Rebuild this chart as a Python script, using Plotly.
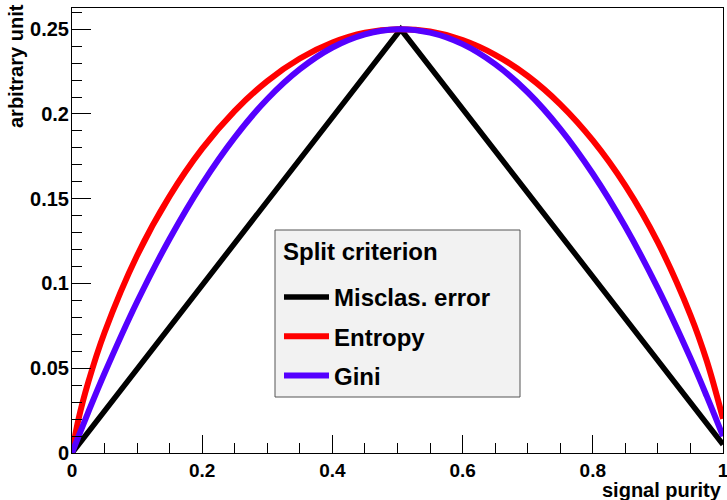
import plotly.graph_objects as go

# x positions (signal purity axis) at which values were read
x_grid = [0.0, 0.01, 0.025, 0.05, 0.1, 0.15, 0.2, 0.25, 0.3, 0.35, 0.4, 0.45, 0.5,
          0.55, 0.6, 0.65, 0.7, 0.75, 0.8, 0.85, 0.9, 0.95, 0.975, 1.0]
entropy_vals = [0.0, 0.0200, 0.0418, 0.0711, 0.1165, 0.1515, 0.1795, 0.2018, 0.2194,
                0.2327, 0.2421, 0.2479, 0.2500, 0.2486, 0.2436, 0.2349, 0.2224, 0.2057,
                0.1844, 0.1577, 0.1242, 0.0814, 0.0544, 0.0202]
gini_vals = [0.0, 0.0098, 0.0241, 0.0470, 0.0892, 0.1264, 0.1588, 0.1862, 0.2088,
             0.2264, 0.2392, 0.2470, 0.2500, 0.2480, 0.2412, 0.2294, 0.2128, 0.1912,
             0.1647, 0.1334, 0.0971, 0.0560, 0.0335, 0.0099]
miscl_x = [0.0, 0.505, 1.0]
miscl_vals = [0.0, 0.25, 0.005]

x_tick_vals = [0, 0.2, 0.4, 0.6, 0.8, 1.0]
x_tick_text = ["0", "0.2", "0.4", "0.6", "0.8", "1"]
y_tick_vals = [0, 0.05, 0.1, 0.15, 0.2, 0.25]
y_tick_text = ["0", "0.05", "0.1", "0.15", "0.2", "0.25"]

series_names = ["Misclas. error", "Entropy", "Gini"]
legend_title = "Split criterion"
x_title = "signal purity"
y_title = "arbitrary unit"

FONT = "Liberation Sans"
W, H = 727, 500
ML, MR, MT, MB = 72, 4, 8, 47
PW, PH = W - ML - MR, H - MT - MB


def px_x(p):
    return (p - ML) / PW


def px_y(p):
    return (H - MB - p) / PH


fig = go.Figure()
fig.add_trace(go.Scatter(x=miscl_x, y=miscl_vals, mode="lines", name=series_names[0],
                         line=dict(color="black", width=5.5), legendgroup="a"))
fig.add_trace(go.Scatter(x=x_grid, y=entropy_vals, mode="lines", name=series_names[1],
                         line=dict(color="#ff0000", width=6, shape="spline"), legendgroup="b"))
fig.add_trace(go.Scatter(x=x_grid, y=gini_vals, mode="lines", name=series_names[2],
                         line=dict(color="#5500ff", width=6, shape="spline"), legendgroup="c"))

fig.update_layout(
    width=W, height=H,
    margin=dict(l=ML, r=MR, t=MT, b=MB, autoexpand=False),
    paper_bgcolor="white", plot_bgcolor="white",
    showlegend=True,
    legend=dict(
        font=dict(family=FONT, size=24, color="black", weight="bold"),
        bgcolor="rgba(0,0,0,0)", borderwidth=0,
        xref="paper", yref="paper",
        x=px_x(279), y=px_y(275), xanchor="left", yanchor="top",
        tracegroupgap=5, itemwidth=45,
    ),
    xaxis=dict(
        range=[0, 1], tickmode="array", tickvals=x_tick_vals, ticktext=x_tick_text,
        ticks="inside", ticklen=18, tickwidth=1, tickcolor="black",
        minor=dict(tickmode="linear", tick0=0, dtick=0.05, ticks="inside", ticklen=10,
                   tickcolor="black"),
        showgrid=False, zeroline=False,
        showline=True, linecolor="black", linewidth=1, mirror=True,
        tickfont=dict(family=FONT, size=19, color="black", weight="bold"),
        ticklabeloverflow="allow",
    ),
    yaxis=dict(
        range=[0, 0.2625], tickmode="array", tickvals=y_tick_vals, ticktext=y_tick_text,
        ticks="inside", ticklen=19, tickwidth=1, tickcolor="black",
        minor=dict(tickmode="linear", tick0=0, dtick=0.01, ticks="inside", ticklen=10,
                   tickcolor="black"),
        showgrid=False, zeroline=False,
        showline=True, linecolor="black", linewidth=1, mirror=True,
        tickfont=dict(family=FONT, size=20, color="black", weight="bold"),
        ticklabelstandoff=-2, ticklabeloverflow="allow",
    ),
    shapes=[
        dict(type="rect", xref="paper", yref="paper",
             x0=px_x(275), x1=px_x(520), y0=px_y(397), y1=px_y(230),
             fillcolor="#f2f2f2", line=dict(color="#555555", width=1), layer="above"),
    ],
    annotations=[
        dict(text=legend_title, xref="paper", yref="paper", x=px_x(281), y=px_y(252),
             xanchor="left", yanchor="middle", showarrow=False,
             font=dict(family=FONT, size=24, color="black", weight="bold")),
        dict(text=y_title, xref="paper", yref="paper", x=px_x(16), y=px_y(2),
             xanchor="center", yanchor="top", textangle=-90, showarrow=False,
             font=dict(family=FONT, size=20, color="black", weight="bold")),
        dict(text=x_title, xref="paper", yref="paper", x=px_x(724), y=px_y(477),
             xanchor="right", yanchor="top", showarrow=False,
             font=dict(family=FONT, size=20, color="black", weight="bold")),
    ],
)

fig.write_html("out.html", config={"displayModeBar": False},
               post_script="document.body.style.margin='0';")
